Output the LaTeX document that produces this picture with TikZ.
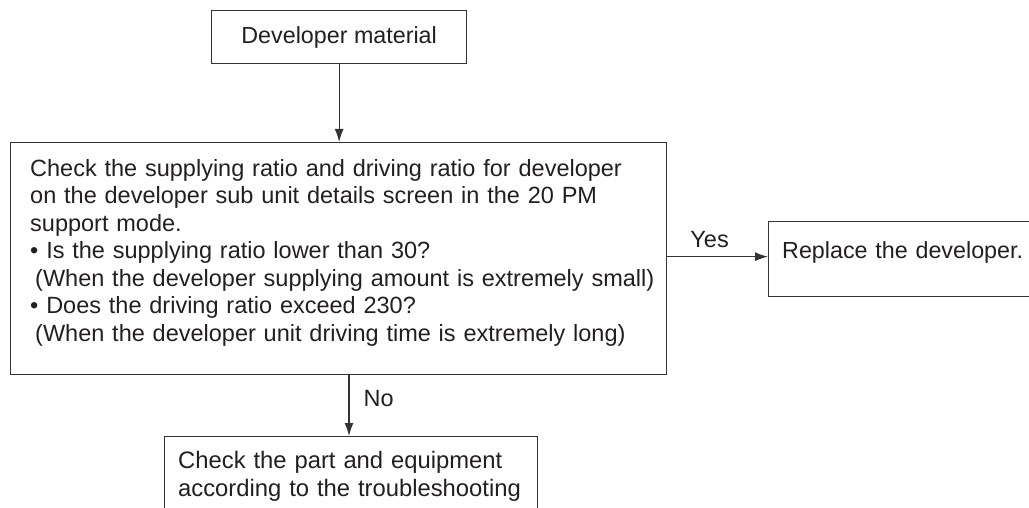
\documentclass[tikz,border=0pt]{standalone}
\usepackage{fontspec}
\setmainfont{Liberation Sans}
\usetikzlibrary{arrows.meta,calc}
\definecolor{linec}{HTML}{333333}
\definecolor{textc}{HTML}{231F20}
\tikzset{
  box/.style={draw=linec, line width=1.3pt, inner sep=0pt},
  txt/.style={text=textc, inner sep=0pt, align=left, text width=700pt, anchor=base west},
  arr/.style={draw=linec, line width=1.3pt, -{Latex[length=13pt,width=9pt]}},
  lbl/.style={text=textc, inner sep=0pt}
}
\begin{document}
\begin{tikzpicture}[x=1pt,y=-1pt,font=\fontsize{23.5}{27.5}\selectfont]
\useasboundingbox (0,0) rectangle (1029,508);
% box 1
\node[box, anchor=north west, minimum width=255pt, minimum height=53pt] (b1) at (211,10) {};
\node[lbl, font=\fontsize{23.3}{27.5}\selectfont] (t1) at (b1.center) {Developer material};
% box 2
\node[box, anchor=north west, minimum width=656pt, minimum height=232pt] (b2) at (10,142) {};
\node[txt] (t2) at (30,176.5)
{Check the supplying ratio and driving ratio for developer\\
on the developer sub unit details screen in the 20 PM\\
support mode.\\
• Is the supplying ratio lower than 30?\\
\hspace*{5pt}(When the developer supplying amount is extremely small)\\
• Does the driving ratio exceed 230?\\
\hspace*{5pt}(When the developer unit driving time is extremely long)};
% box 3
\node[box, anchor=north west, minimum width=264pt, minimum height=75pt] (b3) at (768,221) {};
\node[txt, font=\fontsize{23.3}{27.5}\selectfont] (t3) at (782,258.5) {Replace the developer.};
% box 4
\node[box, anchor=north west, minimum width=373pt, minimum height=100pt] (b4) at (164,436) {};
\node[txt, font=\fontsize{23.8}{27.5}\selectfont] (t4) at (178,468.5)
{Check the part and equipment\\
according to the troubleshooting};
% connectors
\draw[arr] (b1.south) -- (b1.south |- b2.north);
\draw[arr] ([yshift=2.5pt]b3.west -| b2.east) -- node[lbl, above=8pt, pos=0.42] (yes) {Yes} ([yshift=2.5pt]b3.west);
\coordinate (nstart) at (349,374);
\draw[arr] (nstart) -- node[lbl, right=14pt, pos=0.4] (no) {No} (nstart |- b4.north);
\end{tikzpicture}
\end{document}
